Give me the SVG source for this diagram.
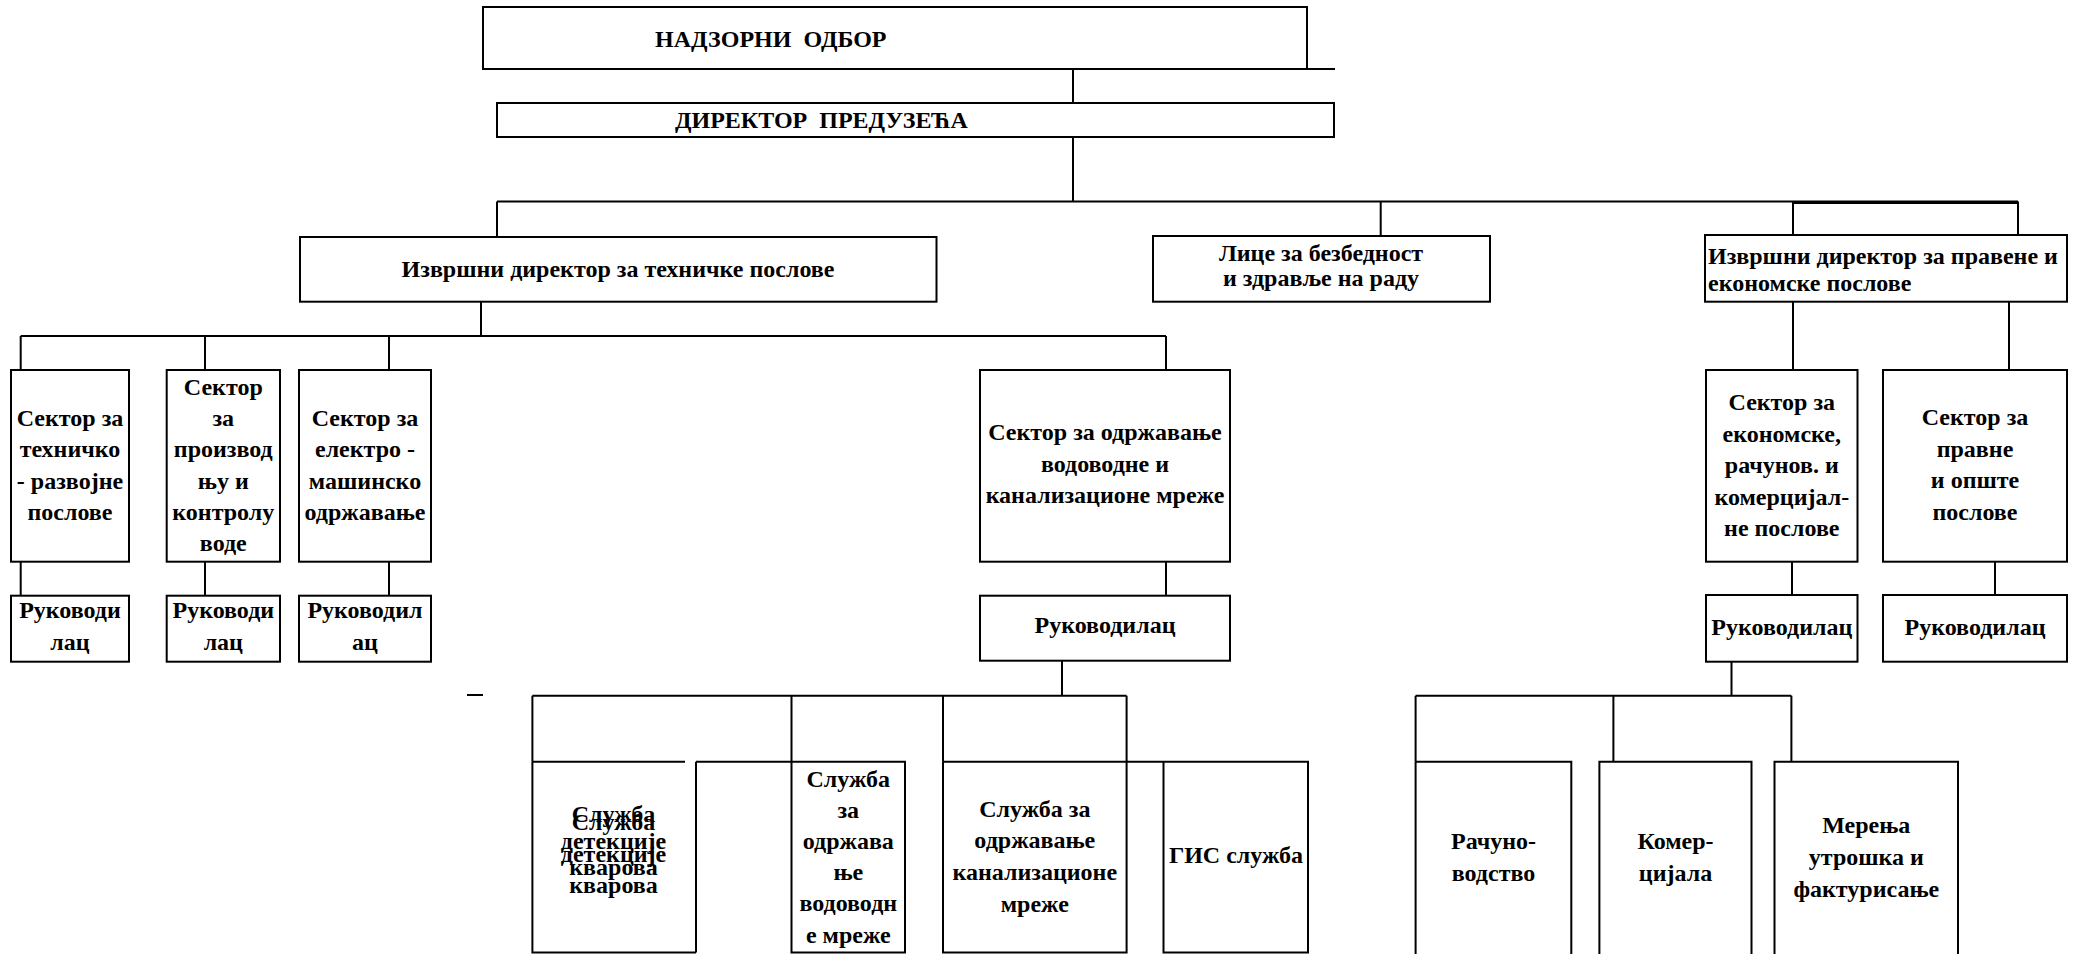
<svg xmlns="http://www.w3.org/2000/svg" width="2080" height="954" viewBox="0 0 2080 954">
<style>
.b{fill:#fff;stroke:#000;stroke-width:2}
.l{fill:none;stroke:#000;stroke-width:2}
.t{font-family:"Liberation Serif","Times New Roman",serif;font-weight:bold;font-size:24px;fill:#000;text-anchor:middle}
.s{text-anchor:start}
</style>
<rect width="2080" height="954" fill="#fff"/>
<g id="connectors" class="l">
<path d="M1073 69V103M1073 137V201.5M497 201.5H2018M497 201.5V237M1380.7 201.5V236M1793 201.5V235M2018 201.5V235"/>
<path d="M1793 202.5H2018" stroke-width="3"/>
<path d="M481 301.7V336M20.7 336H1166M20.7 336V370M205 336V370M389 336V370M1166 336V370"/>
<path d="M20.7 561.7V595.7M205 561.7V595.7M389 561.7V595.7M1166 561.7V595.7"/>
<path d="M467 695H483"/>
<path d="M1062 660.7V695.7M532.4 695.7H1126.6M532.4 695.7V761.7M791.5 695.7V761.7M943 695.7V761.7M1126.6 695.7V761.7"/>
<path d="M1793 301.7V370M2009 301.7V370M1792 561.7V595M1995 561.7V595"/>
<path d="M1731.5 661.7V695.7M1415.6 695.7H1791.4M1415.6 695.7V761.7M1613.4 695.7V761.7M1791.4 695.7V761.7"/>
</g>
<g id="n-nadzorni">
<rect class="b" x="483" y="7" width="824" height="62"/>
<path class="l" d="M1307 69H1335"/>
<text class="t s" x="655" y="46.5">НАДЗОРНИ&#160; ОДБОР</text>
</g>
<g id="n-direktor">
<rect class="b" x="497" y="103" width="837" height="34"/>
<text class="t s" x="675" y="128">ДИРЕКТОР&#160; ПРЕДУЗЕЋА</text>
</g>
<g id="n-izvrsni-teh">
<rect class="b" x="300" y="237" width="636.5" height="64.7"/>
<text class="t" x="618" y="277">Извршни директор за техничке послове</text>
</g>
<g id="n-lice">
<rect class="b" x="1153" y="236" width="337" height="65.7"/>
<text class="t" x="1321" y="261">Лице за безбедност</text>
<text class="t" x="1321" y="285.5">и здравље на раду</text>
</g>
<g id="n-izvrsni-prav">
<rect class="b" x="1705" y="235" width="362" height="66.7"/>
<text class="t s" x="1708" y="264">Извршни директор за правене и</text>
<text class="t s" x="1708" y="291">економске послове</text>
</g>
<g id="n-sek-teh">
<rect class="b" x="11" y="370" width="118" height="191.7"/>
<text class="t" x="70" y="426">Сектор за</text>
<text class="t" x="70" y="457.3">техничко</text>
<text class="t" x="70" y="488.5">- развојне</text>
<text class="t" x="70" y="519.7">послове</text>
</g>
<g id="n-sek-proizv">
<rect class="b" x="166.7" y="370" width="113.3" height="191.7"/>
<text class="t" x="223.3" y="394.5">Сектор</text>
<text class="t" x="223.3" y="426">за</text>
<text class="t" x="223.3" y="457.3">производ</text>
<text class="t" x="223.3" y="488.5">њу и</text>
<text class="t" x="223.3" y="519.7">контролу</text>
<text class="t" x="223.3" y="551">воде</text>
</g>
<g id="n-sek-elektro">
<rect class="b" x="299" y="370" width="132" height="191.7"/>
<text class="t" x="365" y="426">Сектор за</text>
<text class="t" x="365" y="457.3">електро -</text>
<text class="t" x="365" y="488.5">машинско</text>
<text class="t" x="365" y="519.7">одржавање</text>
</g>
<g id="n-sek-mreze">
<rect class="b" x="980" y="370" width="250" height="191.7"/>
<text class="t" x="1105" y="440">Сектор за одржавање</text>
<text class="t" x="1105" y="471.7">водоводне и</text>
<text class="t" x="1105" y="503.3">канализационе мреже</text>
</g>
<g id="n-sek-ekon">
<rect class="b" x="1706" y="370" width="151.5" height="191.7"/>
<text class="t" x="1781.8" y="410">Сектор за</text>
<text class="t" x="1781.8" y="441.5">економске,</text>
<text class="t" x="1781.8" y="473">рачунов. и</text>
<text class="t" x="1781.8" y="504.5">комерцијал-</text>
<text class="t" x="1781.8" y="536">не послове</text>
</g>
<g id="n-sek-prav">
<rect class="b" x="1883" y="370" width="184" height="191.7"/>
<text class="t" x="1975" y="425">Сектор за</text>
<text class="t" x="1975" y="456.5">правне</text>
<text class="t" x="1975" y="488">и опште</text>
<text class="t" x="1975" y="519.5">послове</text>
</g>
<g id="n-ruk1">
<rect class="b" x="11" y="595.7" width="118" height="66"/>
<text class="t" x="70" y="618.3">Руководи</text>
<text class="t" x="70" y="650">лац</text>
</g>
<g id="n-ruk2">
<rect class="b" x="166.7" y="595.7" width="113.3" height="66"/>
<text class="t" x="223.3" y="618.3">Руководи</text>
<text class="t" x="223.3" y="650">лац</text>
</g>
<g id="n-ruk3">
<rect class="b" x="299" y="595.7" width="132" height="66"/>
<text class="t" x="365" y="618.3">Руководил</text>
<text class="t" x="365" y="650">ац</text>
</g>
<g id="n-ruk4">
<rect class="b" x="980" y="595.7" width="250" height="65"/>
<text class="t" x="1105" y="633.3">Руководилац</text>
</g>
<g id="n-ruk5">
<rect class="b" x="1706" y="595" width="151.5" height="66.7"/>
<text class="t" x="1781.8" y="635">Руководилац</text>
</g>
<g id="n-ruk6">
<rect class="b" x="1883" y="595" width="184" height="66.7"/>
<text class="t" x="1975" y="635">Руководилац</text>
</g>
<g id="n-detekcija">
<path class="l" d="M532.4 761.7H685M532.4 761.7V952.5H696M696 761.7H791.5M696 761.7V952.5"/>
<text class="t" x="613.5" y="822">Служба</text>
<text class="t" x="613.5" y="849">детекције</text>
<text class="t" x="613.5" y="875">кварова</text>
<text class="t" x="613.5" y="830">Служба</text>
<text class="t" x="613.5" y="862">детекције</text>
<text class="t" x="613.5" y="892.5">кварова</text>
</g>
<g id="n-vodovod">
<path class="l" d="M791.5 761.7H905V952.5H791.5V761.7"/>
<text class="t" x="848.3" y="786.5">Служба</text>
<text class="t" x="848.3" y="817.7">за</text>
<text class="t" x="848.3" y="849">одржава</text>
<text class="t" x="848.3" y="880">ње</text>
<text class="t" x="848.3" y="911.3">водоводн</text>
<text class="t" x="848.3" y="942.5">е мреже</text>
</g>
<g id="n-kanal">
<path class="l" d="M943 761.7H1126.6V952.5H943V761.7"/>
<text class="t" x="1034.8" y="816.7">Служба за</text>
<text class="t" x="1034.8" y="848.3">одржавање</text>
<text class="t" x="1034.8" y="880">канализационе</text>
<text class="t" x="1034.8" y="911.7">мреже</text>
</g>
<g id="n-gis">
<path class="l" d="M1126.6 761.7H1308V952.5H1163.5V761.7"/>
<text class="t" x="1236" y="863.3">ГИС служба</text>
</g>
<g id="n-racun">
<path class="l" d="M1415.6 761.7V960M1415.6 761.7H1571.3V960"/>
<text class="t" x="1493.5" y="849.3">Рачуно-</text>
<text class="t" x="1493.5" y="880.7">водство</text>
</g>
<g id="n-komer">
<path class="l" d="M1599.4 960V761.7H1751.5V960"/>
<text class="t" x="1675.5" y="849.3">Комер-</text>
<text class="t" x="1675.5" y="880.7">цијала</text>
</g>
<g id="n-merenja">
<path class="l" d="M1774.5 960V761.7H1958V960"/>
<text class="t" x="1866.3" y="833.3">Мерења</text>
<text class="t" x="1866.3" y="865">утрошка и</text>
<text class="t" x="1866.3" y="896.7">фактурисање</text>
</g>
</svg>
